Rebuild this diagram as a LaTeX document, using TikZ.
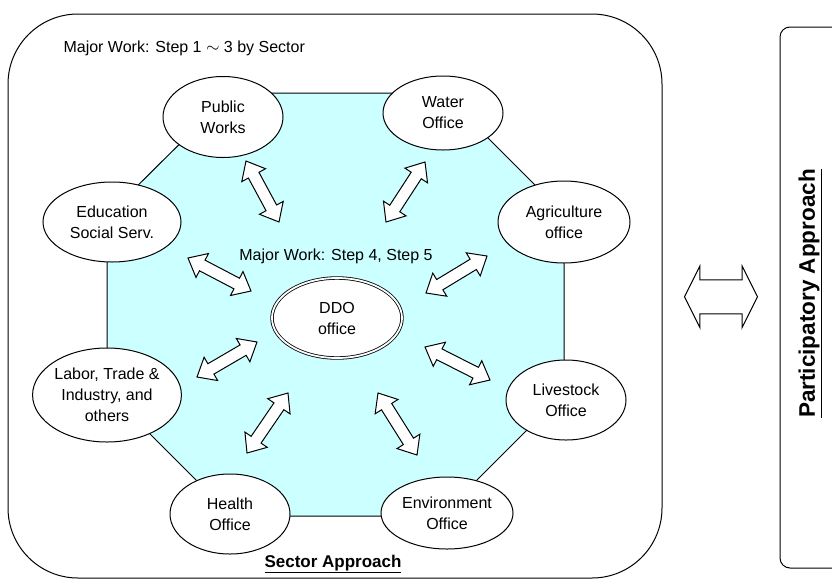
\documentclass[tikz,border=0pt]{standalone}
\usepackage{fontspec}
\setmainfont{Liberation Sans}
\usetikzlibrary{shapes.geometric, shapes.arrows, calc}
\definecolor{octcyan}{RGB}{204,255,255}
\tikzstyle{panel}=[draw=black, line width=1pt, inner sep=0pt]
\tikzstyle{office}=[ellipse, draw=black, fill=white, line width=1pt, align=center, inner sep=0pt]
\tikzstyle{ddo}=[office, double, double distance=1.8pt, line width=0.8pt]
\tikzstyle{linkarrow}=[double arrow, draw=black, fill=white, line width=1pt, inner sep=5.5pt, double arrow head extend=7.5pt, double arrow tip angle=80]
\tikzstyle{bigarrow}=[double arrow, draw=black, fill=white, line width=1pt, inner sep=16.5pt, double arrow head extend=14pt, double arrow tip angle=127, minimum height=73pt]
\tikzstyle{boldlabel}=[font=\fontsize{17}{20}\selectfont\bfseries]

\begin{document}
\begin{tikzpicture}[x=1pt, y=-1pt, font=\fontsize{16}{21}\selectfont]
	\useasboundingbox (0,0) rectangle (832,579);
	% Sector box and participatory box
	\node[panel, rounded corners=70pt, minimum width=654pt, minimum height=564pt] (sector) at (335,296) {};
	\node[panel, rounded corners=10pt, minimum width=70pt, minimum height=541pt] (part) at (815,297.5) {};
	\node[font=\fontsize{22.5}{26}\selectfont\bfseries, rotate=90] (partlabel) at (810,293.5) {\underline{Participatory Approach}};
	\node[bigarrow] (swap) at ($(sector.east)!0.5!(part.west)$) {};

	% Octagon behind the offices
	\draw[line width=1pt, fill=octcyan] (231,93) -- (443,93) -- (564,214) -- (564,393) -- (441,516) -- (232,516) -- (107,391) -- (107,216) -- cycle;

	\node[anchor=west] (step13) at (60,48) {Major Work: Step 1 $\sim$ 3 by Sector};
	\node (step45) at (336,256) {Major Work: Step 4, Step 5};
	\node[boldlabel] (sectlabel) at (333,564) {\underline{Sector Approach}};

	% Offices
	\node[office, minimum width=120pt, minimum height=81pt] (pw)  at (223,117) {Public\\Works};
	\node[office, minimum width=120pt, minimum height=74pt] (wat) at (443,113) {Water\\Office};
	\node[office, minimum width=138pt, minimum height=80pt] (edu) at (112,222) {Education\\Social Serv.};
	\node[office, minimum width=132pt, minimum height=82pt] (agr) at (564,222) {Agriculture\\office};
	\node[office, minimum width=146pt, minimum height=94pt] (lab) at (107,395) {Labor, Trade \&\\Industry, and\\others};
	\node[office, minimum width=120pt, minimum height=80pt] (liv) at (566,400) {Livestock\\Office};
	\node[office, minimum width=120pt, minimum height=80pt] (hea) at (230,514) {Health\\Office};
	\node[office, minimum width=132pt, minimum height=72pt] (env) at (447,513) {Environment\\Office};
	\node[ddo, minimum width=130pt, minimum height=80pt] (ddo) at (337,318) {DDO\\office};

	% Two-way links to the DDO office
	\foreach \s/\ax/\ay/\bx/\by in {pw/246/161/279/222, wat/425/162/386/222, edu/188/258/251/291, agr/487/256/426/293, lab/197/377/257/342, liv/425/347/490/380, hea/288/393/247/453, env/378/393/417/455}{
		\coordinate (\s-a) at (\ax,\ay);
		\coordinate (\s-b) at (\bx,\by);
		\path let \p1=(\s-a), \p2=(\s-b), \n1={atan2(\y2-\y1,\x2-\x1)}, \n2={veclen(\x2-\x1,\y2-\y1)} in
			node[linkarrow, rotate=\n1, minimum height=\n2] (\s-arr) at ($(\s-a)!0.5!(\s-b)$) {};
	}
\end{tikzpicture}
\end{document}
